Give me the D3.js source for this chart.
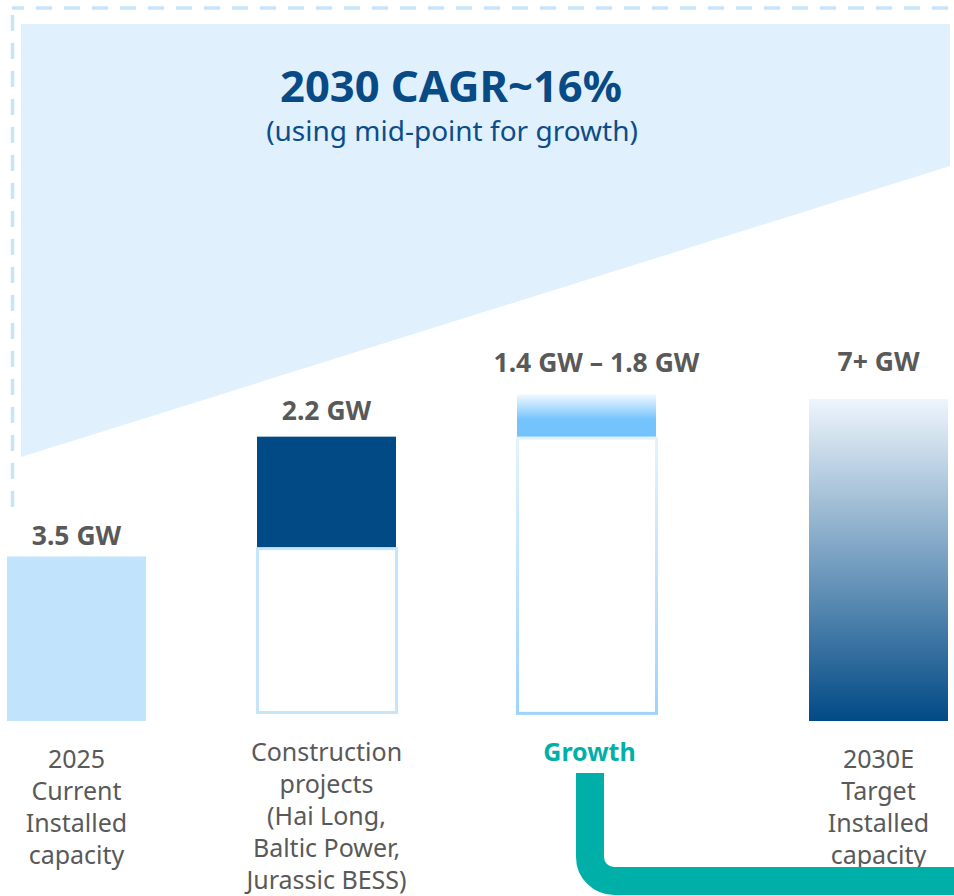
<!DOCTYPE html>
<html>
<head>
<meta charset="utf-8">
<script src="https://cdn.jsdelivr.net/npm/d3@7"></script>
<style>
  body { margin: 0; background: #fff; }
  svg { display: block; }
</style>
</head>
<body>
<div id="chart"></div>
<script>
// ---- data ----
var categories = ["2025", "Construction", "Growth", "2030E"];
var categoryLines = [
  ["2025", "Current", "Installed", "capacity"],
  ["Construction", "projects", "(Hai Long,", "Baltic Power,", "Jurassic BESS)"],
  ["Growth"],
  ["2030E", "Target", "Installed", "capacity"]
];
var valueLabels = ["3.5 GW", "2.2 GW", "1.4 GW \u2013 1.8 GW", "7+ GW"];
// extents in GW as drawn in the picture (the chart is schematic, not to scale)
var barFrom = [0, 3.7, 6.05, 0];
var barTo = [3.5, 6.05, 6.95, 6.85];
var ghostFrom = [null, 0.15, 0.13, null];
var ghostTo = [null, 3.7, 6.05, null];
var title = "2030 CAGR~16%";
var subtitle = "(using mid-point for growth)";

// ---- layout ----
var width = 954, height = 896;
var barW = 139;
var labelGap = [12, 17, 22, 28];
var labelShift = [0, 0, 10, 0];
var font = "'Noto Sans', 'Open Sans', sans-serif";
var grey = "#595959", navy = "#024a86", teal = "#00b0a8";

var svg = d3.select("#chart").append("svg")
  .attr("width", width)
  .attr("height", height);

var defs = svg.append("defs");

function vGrad(id, stops) {
  var g = defs.append("linearGradient")
    .attr("id", id)
    .attr("x1", 0).attr("y1", 0).attr("x2", 0).attr("y2", 1);
  stops.forEach(function(s) {
    g.append("stop").attr("offset", s[0]).attr("stop-color", s[1]);
  });
}
vGrad("target", [[0, "#eef5fc"], [1, "#014a86"]]);
vGrad("growth", [[0, "#f2f9ff"], [0.6, "#74c3fd"], [1, "#74c3fd"]]);
vGrad("ghostGrowth", [[0, "#e4f2fe"], [1, "#9fd3fc"]]);

var fills = ["#c2e3fc", navy, "url(#growth)", "url(#target)"];
var ghostStroke = [null, "#c6e5fb", "url(#ghostGrowth)", null];

var x = d3.scaleOrdinal()
  .domain(categories)
  .range([7, 257, 517, 809]);

var y = d3.scaleLinear()
  .domain([0, 7])
  .range([721, 392]);

// background wedge
svg.append("polygon")
  .attr("points", "21,24 950,24 950,166 21,457")
  .attr("fill", "#e0f0fd");

// dashed frame
svg.append("line")
  .attr("x1", 12).attr("y1", 8).attr("x2", width).attr("y2", 8)
  .attr("stroke", "#c6e5fb").attr("stroke-width", 3.5)
  .attr("stroke-dasharray", "16 12").attr("stroke-dashoffset", 4);
svg.append("line")
  .attr("x1", 12.5).attr("y1", 15).attr("x2", 12.5).attr("y2", 507)
  .attr("stroke", "#c6e5fb").attr("stroke-width", 3.5)
  .attr("stroke-dasharray", "16 12");

// title
svg.append("text")
  .attr("x", 451).attr("y", 102)
  .attr("text-anchor", "middle")
  .attr("font-family", font)
  .attr("font-weight", 700)
  .attr("font-size", 43.5)
  .attr("fill", "#074a86")
  .text(title);

svg.append("text")
  .attr("x", 452).attr("y", 141)
  .attr("text-anchor", "middle")
  .attr("font-family", font)
  .attr("font-size", 28)
  .attr("fill", "#0b4d8a")
  .text(subtitle);

var idx = d3.range(categories.length);

// ghost (outlined) segments
svg.selectAll(".ghost")
  .data(idx.filter(function(i) { return ghostFrom[i] !== null; }))
  .enter().append("rect")
  .attr("class", "ghost")
  .attr("x", function(i) { return x(categories[i]) + 0.5; })
  .attr("width", barW)
  .attr("y", function(i) { return y(ghostTo[i]) + 1.5; })
  .attr("height", function(i) { return y(ghostFrom[i]) - y(ghostTo[i]) - 3; })
  .attr("fill", "#fff")
  .attr("stroke", function(i) { return ghostStroke[i]; })
  .attr("stroke-width", 3);

// solid segments
svg.selectAll(".bar")
  .data(idx)
  .enter().append("rect")
  .attr("class", "bar")
  .attr("x", function(i) { return x(categories[i]); })
  .attr("width", barW)
  .attr("y", function(i) { return y(barTo[i]); })
  .attr("height", function(i) { return y(barFrom[i]) - y(barTo[i]); })
  .attr("fill", function(i) { return fills[i]; });

// value labels
svg.selectAll(".val")
  .data(idx)
  .enter().append("text")
  .attr("class", "val")
  .attr("x", function(i) { return x(categories[i]) + barW / 2 + labelShift[i]; })
  .attr("y", function(i) { return y(barTo[i]) - labelGap[i]; })
  .attr("text-anchor", "middle")
  .attr("font-family", font)
  .attr("font-weight", 700)
  .attr("font-size", 26.5)
  .attr("fill", grey)
  .text(function(i) { return valueLabels[i]; });

// category labels
var cat = svg.selectAll(".cat")
  .data(idx)
  .enter().append("text")
  .attr("class", "cat")
  .attr("text-anchor", "middle")
  .attr("font-family", font)
  .attr("font-size", 25)
  .attr("font-weight", function(i) { return i === 2 ? 700 : 400; })
  .attr("fill", function(i) { return i === 2 ? teal : grey; });

cat.each(function(i) {
  var t = d3.select(this);
  var cx = x(categories[i]) + barW / 2 + (i === 2 ? 3 : 0);
  var top = i === 1 || i === 2 ? 761 : 768;
  categoryLines[i].forEach(function(line, k) {
    t.append("tspan")
      .attr("x", cx)
      .attr("y", top + k * 32)
      .text(line);
  });
});

// teal connector from Growth
svg.append("path")
  .attr("d", "M590,773 V857 A24,24 0 0 0 614,881 H" + width)
  .attr("fill", "none")
  .attr("stroke", teal)
  .attr("stroke-width", 28);
</script>
</body>
</html>
